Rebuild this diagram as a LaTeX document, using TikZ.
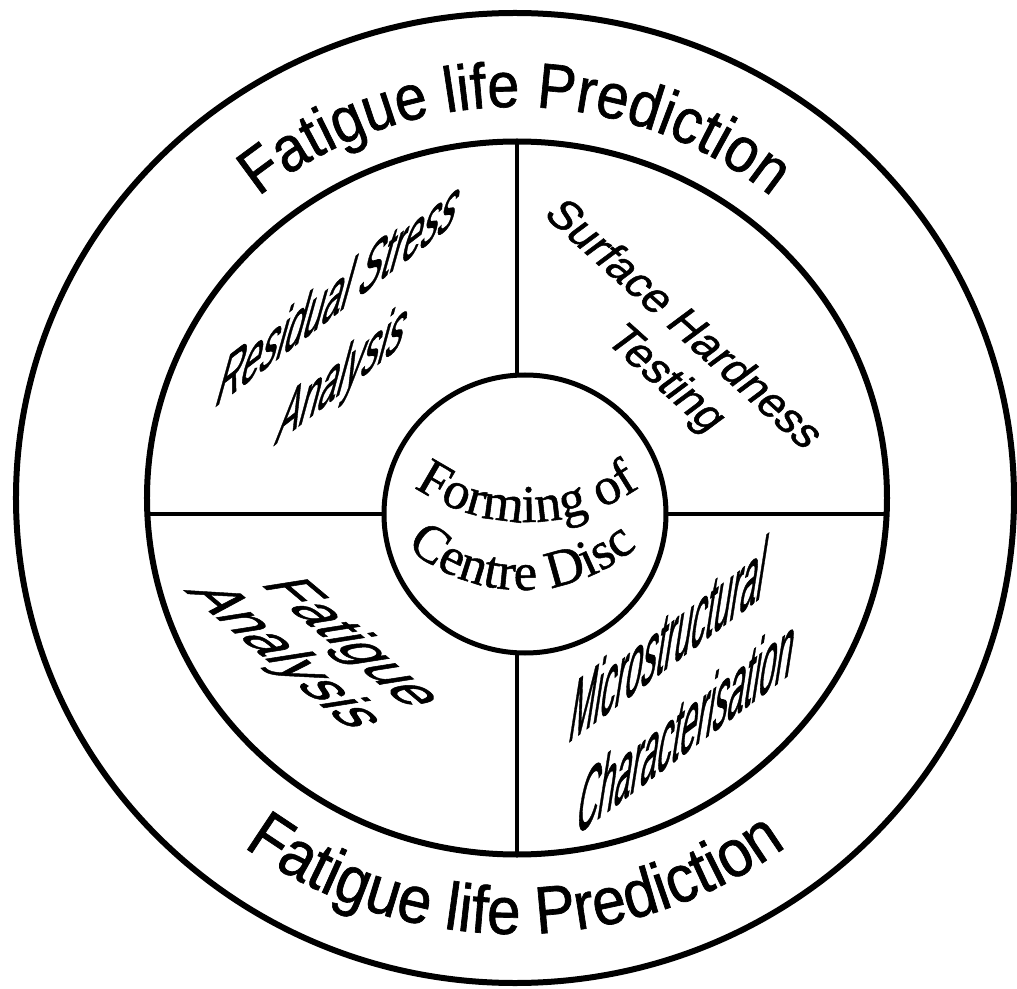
\documentclass[tikz,border=0pt]{standalone}
\usepackage{fontspec}
\setmainfont{Liberation Serif}
\newfontfamily\hubserif[FakeBold=1]{Liberation Serif}
\newfontfamily\labelfont[FakeBold=1.2]{Liberation Sans}
\newfontfamily\ringsans[FakeStretch=0.9, FakeBold=1]{Liberation Sans}
\newcommand\ringfont{\ringsans\fontsize{64}{64}\selectfont}
\newcommand\ringfontlow{\ringsans\fontsize{67}{67}\selectfont}
\newcommand\hubfont{\hubserif\fontsize{53}{53}\selectfont}
\usetikzlibrary{shapes.geometric,decorations.text}

\begin{document}
\begin{tikzpicture}[
    x=1pt, y=1pt,
    ring/.style={draw=black, line width=6pt, ellipse, inner sep=0pt, outer sep=0pt},
    divider/.style={draw=black, line width=4.5pt},
    quadtext/.style={inner sep=0pt, font=\labelfont\fontsize{#1}{#1}\selectfont}
]

    % page frame
    \useasboundingbox (-515,-490) rectangle (502,498);
    \fill[white] (-515,-490) rectangle (502,498);

    % Rings
    \node[ring, minimum width=998pt, minimum height=970pt] (r_outer) at (0,0) {};
    \node[ring, minimum width=740pt, minimum height=713pt] (r_mid) at (2,0) {};
    \node[ring, line width=5pt, minimum width=282pt, minimum height=278pt] (hub) at (10,-16) {};

    % Quadrant dividers
    \draw[divider] (r_mid.north) -- (r_mid.north |- hub.north);
    \draw[divider] (r_mid.south) -- (r_mid.south |- hub.south);
    \draw[divider] (hub.west -| r_mid.west) -- (hub.west);
    \draw[divider] (hub.east) -- (hub.east -| r_mid.east);

    % Outer ring text
    \path[decorate, decoration={text along path, text align=center,
        text={|\ringfont|Fatigue life Prediction}}]
        ({402*cos(136)},{391*sin(136)}) arc[start angle=136, end angle=44, x radius=402, y radius=391];
    \path[decorate, decoration={text along path, text align=center,
        text={|\ringfontlow|Fatigue life Prediction}}]
        ({452*cos(222)},{436*sin(222)}) arc[start angle=222, end angle=318, x radius=452, y radius=436];

    % Hub text
    \path[decorate, decoration={text along path, text align=center,
        text={|\hubfont|Forming of}}]
        ({12+200*cos(225)},{176+200*sin(225)}) arc[start angle=225, end angle=315, radius=200];
    \path[decorate, decoration={text along path, text align=center,
        text={|\hubfont|Centre Disc}}]
        ({7+175*cos(215)},{83+175*sin(215)}) arc[start angle=215, end angle=325, radius=175];

    % Quadrant labels
    \node[quadtext=43, rotate=37.5, xslant=1.33, yscale=1.1] (resid_a) at (-175,208) {Residual Stress};
    \node[quadtext=43, rotate=38, xslant=1.33, yscale=1.1] (resid_b) at (-173,121) {Analysis};

    \node[quadtext=44, rotate=-42, xslant=0.2] (surf_a) at (171,175) {Surface Hardness};
    \node[quadtext=44, rotate=-42, xslant=0.2] (surf_b) at (150,118) {Testing};

    \node[quadtext=58, rotate=-40, xslant=0.87, yscale=0.85] (fat_a) at (-165,-145) {Fatigue};
    \node[quadtext=58, rotate=-40, xslant=0.87, yscale=0.85] (fat_b) at (-232,-159) {Analysis};

    \node[quadtext=37, rotate=37, xslant=1.03, yscale=1.75] (micro_a) at (154,-140) {Microstructural};
    \node[quadtext=37, rotate=37, xslant=1.03, yscale=1.75] (micro_b) at (172,-225) {Characterisation};

\end{tikzpicture}
\end{document}
